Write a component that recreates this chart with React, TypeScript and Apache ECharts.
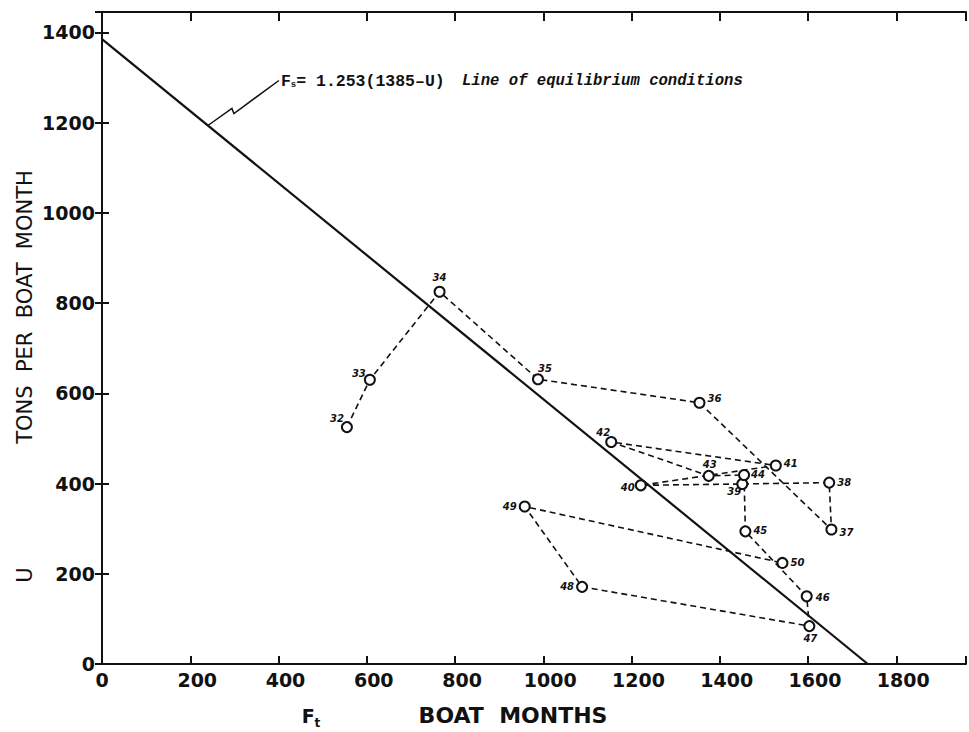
import React, { useEffect, useRef } from "react";
import * as echarts from "echarts";

// Fishing years (19xx) and observations
const years = ["32", "33", "34", "35", "36", "37", "38", "39", "40", "41", "42", "43", "44", "45", "46", "47", "48", "49", "50"];
const boatMonths = [555, 607, 765, 988, 1354, 1653, 1648, 1451, 1221, 1527, 1154, 1375, 1455, 1458, 1597, 1603, 1088, 958, 1542];
const tonsPerBoatMonth = [525, 630, 825, 631, 579, 298, 402, 399, 396, 440, 492, 417, 419, 294, 150, 84, 171, 349, 224];

// Line of equilibrium: F = 1.253 (1385 - U)
const eqSlope = 1.253;
const eqIntercept = 1385;

const xTicks = [0, 200, 400, 600, 800, 1000, 1200, 1400, 1600, 1800];
const yTicks = [0, 200, 400, 600, 800, 1000, 1200, 1400];

// label placement (style only), pixel offsets from each point
const labelOffsets: Record<string, [number, number]> = {
  "32": [-10, -9], "33": [-11, -6], "34": [0, -14], "35": [7, -11], "36": [15, -4],
  "37": [15, 3], "38": [15, 0], "39": [-8, 8], "40": [-13, 2], "41": [15, -2],
  "42": [-8, -10], "43": [1, -11], "44": [14, 0], "45": [15, -1], "46": [16, 1],
  "47": [1, 12], "48": [-15, 0], "49": [-15, 0], "50": [15, 0],
};

const INK = "#111";
const AXIS_FONT = "DejaVu Sans";

export default function App() {
  const ref = useRef<HTMLDivElement>(null);

  useEffect(() => {
    if (!ref.current) return;
    const chart = echarts.init(ref.current, null, { renderer: "svg" });

    const pathData = years.map((y, i) => ({
      value: [boatMonths[i], tonsPerBoatMonth[i]],
      label: {
        show: true,
        formatter: y,
        position: "inside",
        offset: labelOffsets[y] || [12, 0],
        fontSize: 10,
        fontStyle: "italic",
        fontWeight: "bold",
        fontFamily: "DejaVu Sans",
        color: INK,
      },
    }));

    const eqLine = [
      [0, eqIntercept],
      [eqSlope * eqIntercept, 0],
    ];

    const xMax = 1958;
    const yMax = 1445;

    const tickFont = { color: INK, fontSize: 19, fontWeight: "bold", fontFamily: AXIS_FONT };

    const option: any = {
      animation: false,
      backgroundColor: "#fff",
      grid: { left: 102, right: 1, top: 12, bottom: 68, containLabel: false },
      xAxis: [
        {
          type: "value",
          position: "bottom",
          min: 0,
          max: xMax,
          interval: 200,
          splitLine: { show: false },
          axisLine: { show: true, onZero: false, lineStyle: { color: INK, width: 2 } },
          axisTick: { show: true, inside: true, length: 8, lineStyle: { color: INK, width: 2 } },
          axisLabel: {
            show: true,
            margin: 6,
            ...tickFont,
            formatter: (v: number) => (xTicks.includes(v) ? (v === 0 ? "{z|0}" : "{r|" + v + "}") : ""),
            rich: {
              z: { ...tickFont },
              r: { ...tickFont, padding: [0, 0, 0, 14] },
            },
          },
        },
        {
          type: "value",
          position: "top",
          min: 0,
          max: xMax,
          interval: 200,
          splitLine: { show: false },
          axisLine: { show: true, onZero: false, lineStyle: { color: INK, width: 2 } },
          axisTick: { show: true, inside: true, length: 9, lineStyle: { color: INK, width: 2 } },
          axisLabel: { show: false },
        },
      ],
      yAxis: [
        {
          type: "value",
          position: "left",
          min: 0,
          max: yMax,
          interval: 200,
          splitLine: { show: false },
          axisLine: { show: true, onZero: false, lineStyle: { color: INK, width: 2 } },
          axisTick: { show: true, inside: true, length: 7, lineStyle: { color: INK, width: 2 } },
          axisLabel: {
            show: true,
            margin: 7,
            ...tickFont,
            formatter: (v: number) => (yTicks.includes(v) ? String(v) : ""),
          },
        },
        {
          type: "value",
          position: "right",
          min: 0,
          max: yMax,
          interval: 200,
          splitLine: { show: false },
          axisLine: { show: false },
          axisTick: { show: true, inside: true, length: 7, lineStyle: { color: INK, width: 2 } },
          axisLabel: { show: false },
        },
      ],
      series: [
        {
          name: "equilibrium",
          type: "line",
          data: eqLine,
          showSymbol: false,
          symbol: "none",
          lineStyle: { color: INK, width: 2.2 },
          silent: true,
          z: 2,
        },
        {
          name: "years",
          type: "line",
          data: pathData,
          symbol: "circle",
          symbolSize: 10,
          showAllSymbol: true,
          lineStyle: { color: INK, width: 1.6, type: [6, 4] },
          itemStyle: { color: "#fff", borderColor: INK, borderWidth: 2 },
          z: 3,
        },
      ],
    };

    chart.setOption(option);

    // annotation leader, anchored on the equilibrium line
    const anchorF = 240;
    const anchorU = eqIntercept - anchorF / eqSlope;
    const a = chart.convertToPixel({ seriesIndex: 0 }, [anchorF, anchorU]) as number[];
    const ax = a[0];
    const ay = a[1];

    chart.setOption({
      graphic: [
        {
          type: "polyline",
          shape: {
            points: [
              [ax, ay],
              [ax + 24, ay - 17],
              [ax + 26, ay - 12],
              [ax + 71, ay - 45],
            ],
          },
          style: { stroke: INK, lineWidth: 1.5, fill: null },
          z: 10,
        },
        {
          type: "text",
          x: ax + 73,
          y: ay - 44,
          style: {
            text: "{a|F}{s|s}{a|= 1.253(1385–U)}",
            verticalAlign: "middle",
            align: "left",
            rich: {
              a: { fontFamily: "Liberation Mono", fontWeight: "bold", fontSize: 16.5, fill: INK },
              s: { fontFamily: "Liberation Mono", fontWeight: "bold", fontSize: 9, fill: INK, padding: [8, 0, 0, 0] },
            },
          },
          z: 10,
        },
        {
          type: "text",
          x: 462,
          y: ay - 44,
          style: {
            text: "Line of equilibrium conditions",
            fontFamily: "Liberation Mono",
            fontWeight: "bold",
            fontStyle: "italic",
            fontSize: 15.6,
            fill: INK,
            verticalAlign: "middle",
            align: "left",
          },
          z: 10,
        },
        {
          type: "text",
          x: 25,
          y: 575,
          rotation: Math.PI / 2,
          style: { text: "U", fontFamily: AXIS_FONT, fontSize: 21, fill: INK, align: "center", verticalAlign: "middle" },
        },
        {
          type: "text",
          x: 25,
          y: 307,
          rotation: Math.PI / 2,
          style: {
            text: "TONS  PER  BOAT  MONTH",
            fontFamily: AXIS_FONT,
            fontSize: 21,
            fill: INK,
            align: "center",
            verticalAlign: "middle",
          },
        },
        {
          type: "text",
          x: 513,
          y: 715,
          style: {
            text: "BOAT  MONTHS",
            fontFamily: AXIS_FONT,
            fontSize: 22,
            fontWeight: "bold",
            fill: INK,
            align: "center",
            verticalAlign: "middle",
          },
        },
        {
          type: "text",
          x: 311,
          y: 716,
          style: {
            text: "{f|F}{t|t}",
            align: "center",
            verticalAlign: "middle",
            rich: {
              f: { fontFamily: AXIS_FONT, fontSize: 19, fontWeight: "bold", fill: INK },
              t: { fontFamily: AXIS_FONT, fontSize: 12, fontWeight: "bold", fill: INK, padding: [14, 0, 0, 0] },
            },
          },
        },
      ],
    });

    return () => chart.dispose();
  }, []);

  return (
    <div
      ref={ref}
      style={{ position: "fixed", left: 0, top: 0, width: 969, height: 732, background: "#fff" }}
    />
  );
}
